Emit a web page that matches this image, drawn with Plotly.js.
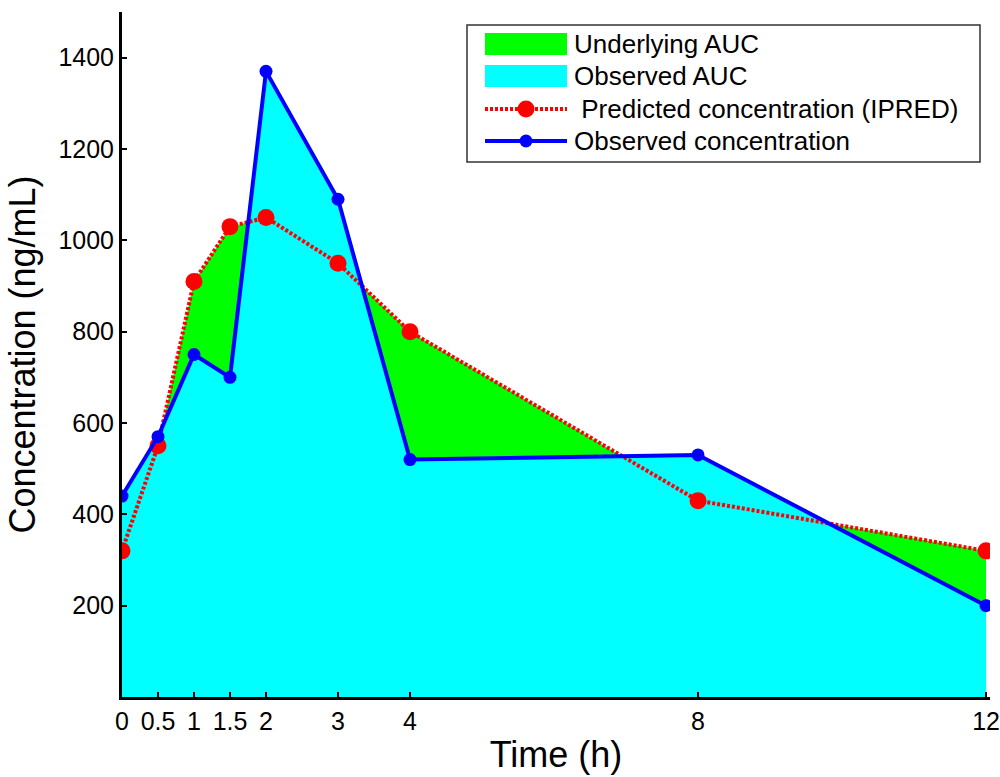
<!DOCTYPE html>
<html>
<head>
<meta charset="utf-8">
<script src="https://cdn.plot.ly/plotly-3.0.1.min.js"></script>
<style>html,body{margin:0;padding:0;background:#fff;}#chart{width:1000px;height:777px;}</style>
</head>
<body>
<div id="chart"></div>
<script>
var time = [0, 0.5, 1, 1.5, 2, 3, 4, 8, 12];
var observed = [440, 570, 750, 700, 1370, 1090, 520, 530, 200];
var predicted = [320, 550, 910, 1030, 1050, 950, 800, 430, 320];
var xTickVals = [0, 0.5, 1, 1.5, 2, 3, 4, 8, 12];
var xTickText = ['0', '0.5', '1', '1.5', '2', '3', '4', '8', '12'];
var yTickVals = [200, 400, 600, 800, 1000, 1200, 1400];
var legendNames = ['Underlying AUC', 'Observed AUC', ' Predicted concentration (IPRED)', 'Observed concentration'];

var font = 'Arial, "Liberation Sans", sans-serif';
var GREEN = '#00ff00', CYAN = '#00ffff', RED = '#ff0000', BLUE = '#0000ff';

var traces = [
  {x: time, y: predicted, type: 'scatter', mode: 'none', fill: 'tozeroy',
   fillcolor: GREEN, name: legendNames[0], showlegend: false},
  {x: time, y: observed, type: 'scatter', mode: 'none', fill: 'tozeroy',
   fillcolor: CYAN, name: legendNames[1], showlegend: false},
  {x: time, y: predicted, type: 'scatter', mode: 'lines+markers',
   line: {color: RED, width: 4, dash: '3px,2px'},
   marker: {color: RED, size: 17}, name: legendNames[2], showlegend: false},
  {x: time, y: observed, type: 'scatter', mode: 'lines+markers',
   line: {color: BLUE, width: 4},
   marker: {color: BLUE, size: 13}, name: legendNames[3], showlegend: false}
];

// manual legend (paper coordinates computed from pixel layout)
var M = {l: 122, r: 10, t: 12, b: 80};
var PW = 1000 - M.l - M.r, PH = 777 - M.t - M.b;
function px(x) { return (x - M.l) / PW; }
function py(y) { return (777 - M.b - y) / PH; }

var shapes = [];
var annotations = [];
shapes.push({type: 'rect', xref: 'paper', yref: 'paper', x0: px(467), x1: px(980), y0: py(25), y1: py(162),
  line: {color: '#333', width: 1.5}, fillcolor: '#fff', layer: 'above'});
var rowY = [44, 76, 109, 141];
shapes.push({type: 'rect', xref: 'paper', yref: 'paper', x0: px(485), x1: px(567), y0: py(rowY[0] - 11), y1: py(rowY[0] + 11),
  line: {width: 0}, fillcolor: GREEN, layer: 'above'});
shapes.push({type: 'rect', xref: 'paper', yref: 'paper', x0: px(485), x1: px(567), y0: py(rowY[1] - 11), y1: py(rowY[1] + 11),
  line: {width: 0}, fillcolor: CYAN, layer: 'above'});
shapes.push({type: 'line', xref: 'paper', yref: 'paper', x0: px(485), x1: px(567), y0: py(rowY[2]), y1: py(rowY[2]),
  line: {color: RED, width: 4, dash: '3px,2px'}, layer: 'above'});
shapes.push({type: 'circle', xref: 'paper', yref: 'paper', x0: px(526 - 8.5), x1: px(526 + 8.5), y0: py(rowY[2] - 8.5), y1: py(rowY[2] + 8.5),
  line: {width: 0}, fillcolor: RED, layer: 'above'});
shapes.push({type: 'line', xref: 'paper', yref: 'paper', x0: px(485), x1: px(567), y0: py(rowY[3]), y1: py(rowY[3]),
  line: {color: BLUE, width: 4}, layer: 'above'});
shapes.push({type: 'circle', xref: 'paper', yref: 'paper', x0: px(526 - 6.5), x1: px(526 + 6.5), y0: py(rowY[3] - 6.5), y1: py(rowY[3] + 6.5),
  line: {width: 0}, fillcolor: BLUE, layer: 'above'});
for (var i = 0; i < 4; i++) {
  annotations.push({xref: 'paper', yref: 'paper', x: px(572), y: py(rowY[i]), xanchor: 'left', yanchor: 'middle',
    text: legendNames[i].replace(/^ /, '&nbsp;'), showarrow: false, font: {size: 26, family: font, color: '#000'}});
}

var layout = {
  width: 1000, height: 777,
  margin: M,
  paper_bgcolor: '#fff', plot_bgcolor: '#fff',
  font: {family: font, color: '#000'},
  showlegend: false,
  shapes: shapes,
  annotations: annotations,
  xaxis: {
    range: [0, 12.055], tickmode: 'array', tickvals: xTickVals, ticktext: xTickText,
    ticks: 'inside', ticklen: 5, tickwidth: 2, tickcolor: '#000',
    showline: true, linecolor: '#000', linewidth: 3, showgrid: false, zeroline: false,
    tickfont: {size: 25, family: font},
    title: {text: 'Time (h)', font: {size: 36, family: font}, standoff: 8}
  },
  yaxis: {
    range: [0, 1500], tickmode: 'array', tickvals: yTickVals,
    ticks: 'inside', ticklen: 5, tickwidth: 2, tickcolor: '#000',
    showline: true, linecolor: '#000', linewidth: 3, showgrid: false, zeroline: false,
    tickfont: {size: 25, family: font},
    title: {text: 'Concentration (ng/mL)', font: {size: 36, family: font}, standoff: 12}
  }
};

Plotly.newPlot('chart', traces, layout, {displayModeBar: false});
</script>
</body>
</html>
